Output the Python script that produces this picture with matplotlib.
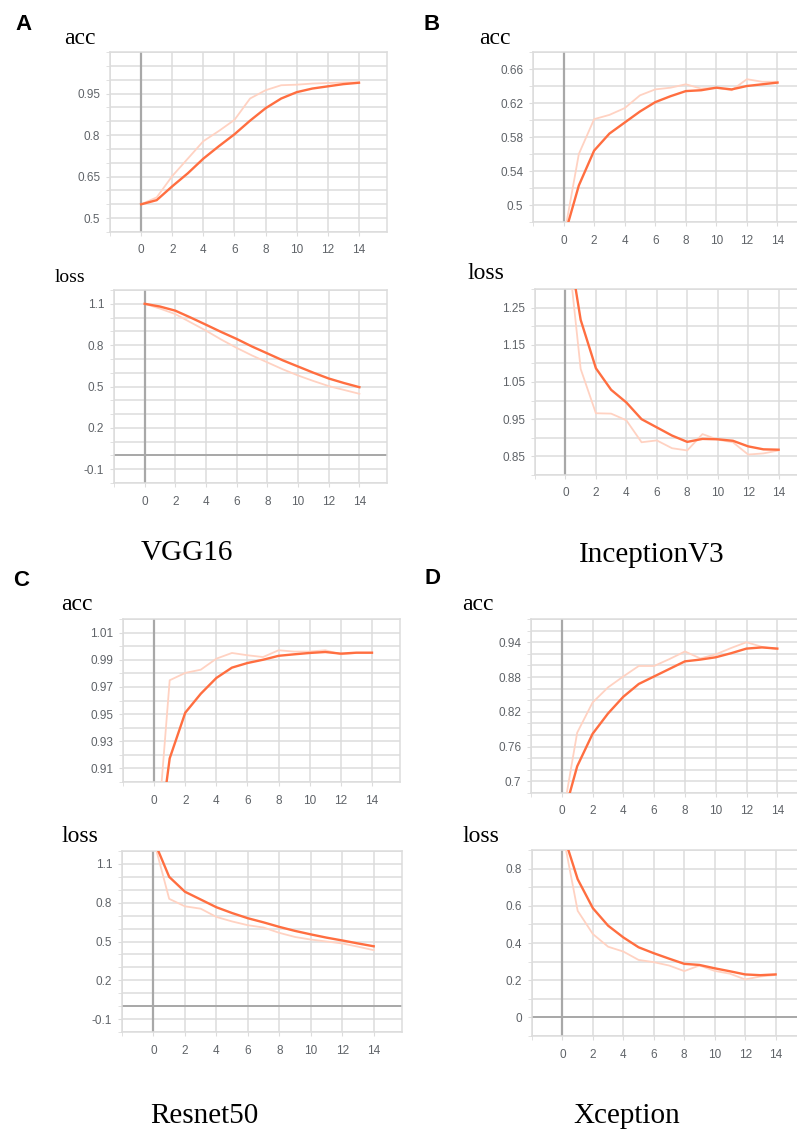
import numpy as np
import matplotlib
matplotlib.use("Agg")
import matplotlib.pyplot as plt

# epochs
epochs = list(range(15))

# VGG16
vgg_acc = [0.55, 0.565, 0.615, 0.662, 0.715, 0.76, 0.803, 0.852, 0.897, 0.932, 0.955, 0.968, 0.976, 0.984, 0.989]
vgg_acc_raw = [0.55, 0.575, 0.652, 0.715, 0.778, 0.815, 0.855, 0.932, 0.962, 0.98, 0.982, 0.986, 0.988, 0.99, 0.99]
vgg_loss = [1.10, 1.08, 1.05, 1.00, 0.948, 0.895, 0.845, 0.79, 0.74, 0.69, 0.645, 0.60, 0.558, 0.525, 0.495]
vgg_loss_raw = [1.10, 1.065, 1.025, 0.965, 0.905, 0.84, 0.78, 0.725, 0.675, 0.625, 0.58, 0.54, 0.503, 0.475, 0.447]

# InceptionV3
inc_acc = [0.46, 0.523, 0.564, 0.584, 0.597, 0.61, 0.621, 0.628, 0.634, 0.635, 0.638, 0.636, 0.640, 0.642, 0.644]
inc_acc_raw = [0.46, 0.56, 0.601, 0.606, 0.614, 0.629, 0.636, 0.638, 0.642, 0.637, 0.638, 0.635, 0.648, 0.645, 0.645]
inc_loss = [1.47, 1.217, 1.087, 1.029, 0.995, 0.95, 0.928, 0.906, 0.889, 0.897, 0.896, 0.892, 0.877, 0.869, 0.868]
inc_loss_raw = [1.47, 1.085, 0.966, 0.965, 0.947, 0.888, 0.893, 0.872, 0.866, 0.91, 0.895, 0.888, 0.855, 0.858, 0.866]

# Resnet50
res_acc = [0.83, 0.9174, 0.951, 0.965, 0.9766, 0.9842, 0.9876, 0.990, 0.9929, 0.994, 0.995, 0.9957, 0.9945, 0.9952, 0.9952]
res_acc_raw = [0.83, 0.9749, 0.9803, 0.9827, 0.9908, 0.995, 0.9933, 0.992, 0.997, 0.996, 0.996, 0.997, 0.994, 0.995, 0.995]
res_loss = [1.29, 1.00, 0.885, 0.825, 0.765, 0.72, 0.68, 0.648, 0.613, 0.582, 0.555, 0.53, 0.508, 0.485, 0.463]
res_loss_raw = [1.29, 0.83, 0.772, 0.754, 0.69, 0.655, 0.626, 0.608, 0.567, 0.535, 0.515, 0.50, 0.485, 0.46, 0.433]

# Xception
xce_acc = [0.63, 0.726, 0.782, 0.817, 0.846, 0.868, 0.881, 0.894, 0.907, 0.910, 0.914, 0.921, 0.929, 0.931, 0.929]
xce_acc_raw = [0.63, 0.784, 0.836, 0.862, 0.881, 0.899, 0.899, 0.911, 0.924, 0.912, 0.919, 0.93, 0.94, 0.932, 0.928]
xce_loss = [1.0, 0.743, 0.587, 0.493, 0.43, 0.377, 0.345, 0.316, 0.288, 0.282, 0.264, 0.248, 0.231, 0.227, 0.231]
xce_loss_raw = [1.0, 0.573, 0.448, 0.38, 0.354, 0.309, 0.297, 0.279, 0.249, 0.279, 0.25, 0.235, 0.204, 0.22, 0.228]

xticks = [0, 2, 4, 6, 8, 10, 12, 14]

W, H = 797, 1131
DARK = "#ff6e40"
LIGHT = "#ffd2c2"
GRID = "#dcdcdc"
AXIS0 = "#a8a8a8"
TICKC = "#5f6368"

fig = plt.figure(figsize=(W / 100, H / 100), dpi=100)


def panel(box, ylim, ystep, yticks, ylabels, y, y_raw, zero_line=False):
    left, top, right, bottom = box
    ax = fig.add_axes([left / W, 1 - bottom / H, (right - left) / W, (bottom - top) / H])
    ax.set_xlim(-2, 15.8)
    ax.set_ylim(*ylim)
    n = int(round((ylim[1] - ylim[0]) / ystep))
    ax.set_yticks([round(ylim[0] + i * ystep, 4) for i in range(n + 1)], minor=True)
    ax.set_yticks(yticks)
    ax.set_yticklabels(ylabels)
    ax.set_xticks([-2] + xticks, minor=True)
    ax.set_xticks(xticks)
    ax.set_xticklabels([str(t) for t in xticks])
    ax.grid(True, which="both", color=GRID, lw=1.1)
    ax.set_axisbelow(True)
    ax.tick_params(which="both", length=3, color=GRID, labelcolor=TICKC, labelsize=8.5)
    ax.tick_params(axis="x", which="both", pad=6)
    ax.tick_params(axis="y", which="both", pad=4)
    for t in ax.get_xticklabels() + ax.get_yticklabels():
        t.set_family("Liberation Sans")
    for s in ax.spines.values():
        s.set_color(GRID)
        s.set_linewidth(1.1)
    ax.axvline(0, color=AXIS0, lw=1.6, zorder=1)
    if zero_line:
        ax.axhline(0, color=AXIS0, lw=1.4, zorder=1)
    ax.plot(epochs, y_raw, color=LIGHT, lw=1.3, zorder=3)
    ax.plot(epochs, y, color=DARK, lw=1.7, zorder=4)
    return ax


# A - VGG16
panel((110, 52, 387, 232), (0.45, 1.10), 0.05, [0.5, 0.65, 0.8, 0.95],
      ["0.5", "0.65", "0.8", "0.95"], vgg_acc, vgg_acc_raw)
panel((114, 290, 387, 483), (-0.2, 1.2), 0.1, [-0.1, 0.2, 0.5, 0.8, 1.1],
      ["-0.1", "0.2", "0.5", "0.8", "1.1"], vgg_loss, vgg_loss_raw, zero_line=True)

# B - InceptionV3
panel((533, 52, 805, 222), (0.48, 0.68), 0.02, [0.5, 0.54, 0.58, 0.62, 0.66],
      ["0.5", "0.54", "0.58", "0.62", "0.66"], inc_acc, inc_acc_raw)
panel((535, 289, 806, 475), (0.8, 1.3), 0.05, [0.85, 0.95, 1.05, 1.15, 1.25],
      ["0.85", "0.95", "1.05", "1.15", "1.25"], inc_loss, inc_loss_raw)

# C - Resnet50
panel((123, 619, 400, 782), (0.90, 1.02), 0.01, [0.91, 0.93, 0.95, 0.97, 0.99, 1.01],
      ["0.91", "0.93", "0.95", "0.97", "0.99", "1.01"], res_acc, res_acc_raw)
panel((122, 851, 402, 1032), (-0.2, 1.2), 0.1, [-0.1, 0.2, 0.5, 0.8, 1.1],
      ["-0.1", "0.2", "0.5", "0.8", "1.1"], res_loss, res_loss_raw, zero_line=True)

# D - Xception
panel((531, 619, 805, 793), (0.68, 0.98), 0.02, [0.7, 0.76, 0.82, 0.88, 0.94],
      ["0.7", "0.76", "0.82", "0.88", "0.94"], xce_acc, xce_acc_raw)
panel((532, 850, 803, 1036), (-0.1, 0.9), 0.1, [0, 0.2, 0.4, 0.6, 0.8],
      ["0", "0.2", "0.4", "0.6", "0.8"], xce_loss, xce_loss_raw, zero_line=True)


def ftext(x, y, s, **kw):
    fig.text(x / W, 1 - y / H, s, **kw)


serif = dict(family="Liberation Serif", color="black", va="center", ha="left")
ftext(64, 38, "acc", size=17, **serif)
ftext(55, 278, "loss", size=14, **serif)
ftext(479, 38, "acc", size=17, **serif)
ftext(467, 274, "loss", size=17, **serif)
ftext(61, 605, "acc", size=17, **serif)
ftext(61, 836, "loss", size=17, **serif)
ftext(462, 604, "acc", size=17, **serif)
ftext(462, 836, "loss", size=17, **serif)

title = dict(family="Liberation Serif", color="black", va="center", ha="center", size=21)
ftext(187, 553, "VGG16", **title)
ftext(652, 555, "InceptionV3", **title)
ftext(204, 1116, "Resnet50", **title)
ftext(627, 1116, "Xception", **title)

letter = dict(family="Liberation Sans", weight="bold", color="black", va="center", ha="center", size=16)
ftext(23, 24, "A", **letter)
ftext(432, 24, "B", **letter)
ftext(21, 580, "C", **letter)
ftext(432, 579, "D", **letter)

fig.savefig("out.png", dpi=100)
